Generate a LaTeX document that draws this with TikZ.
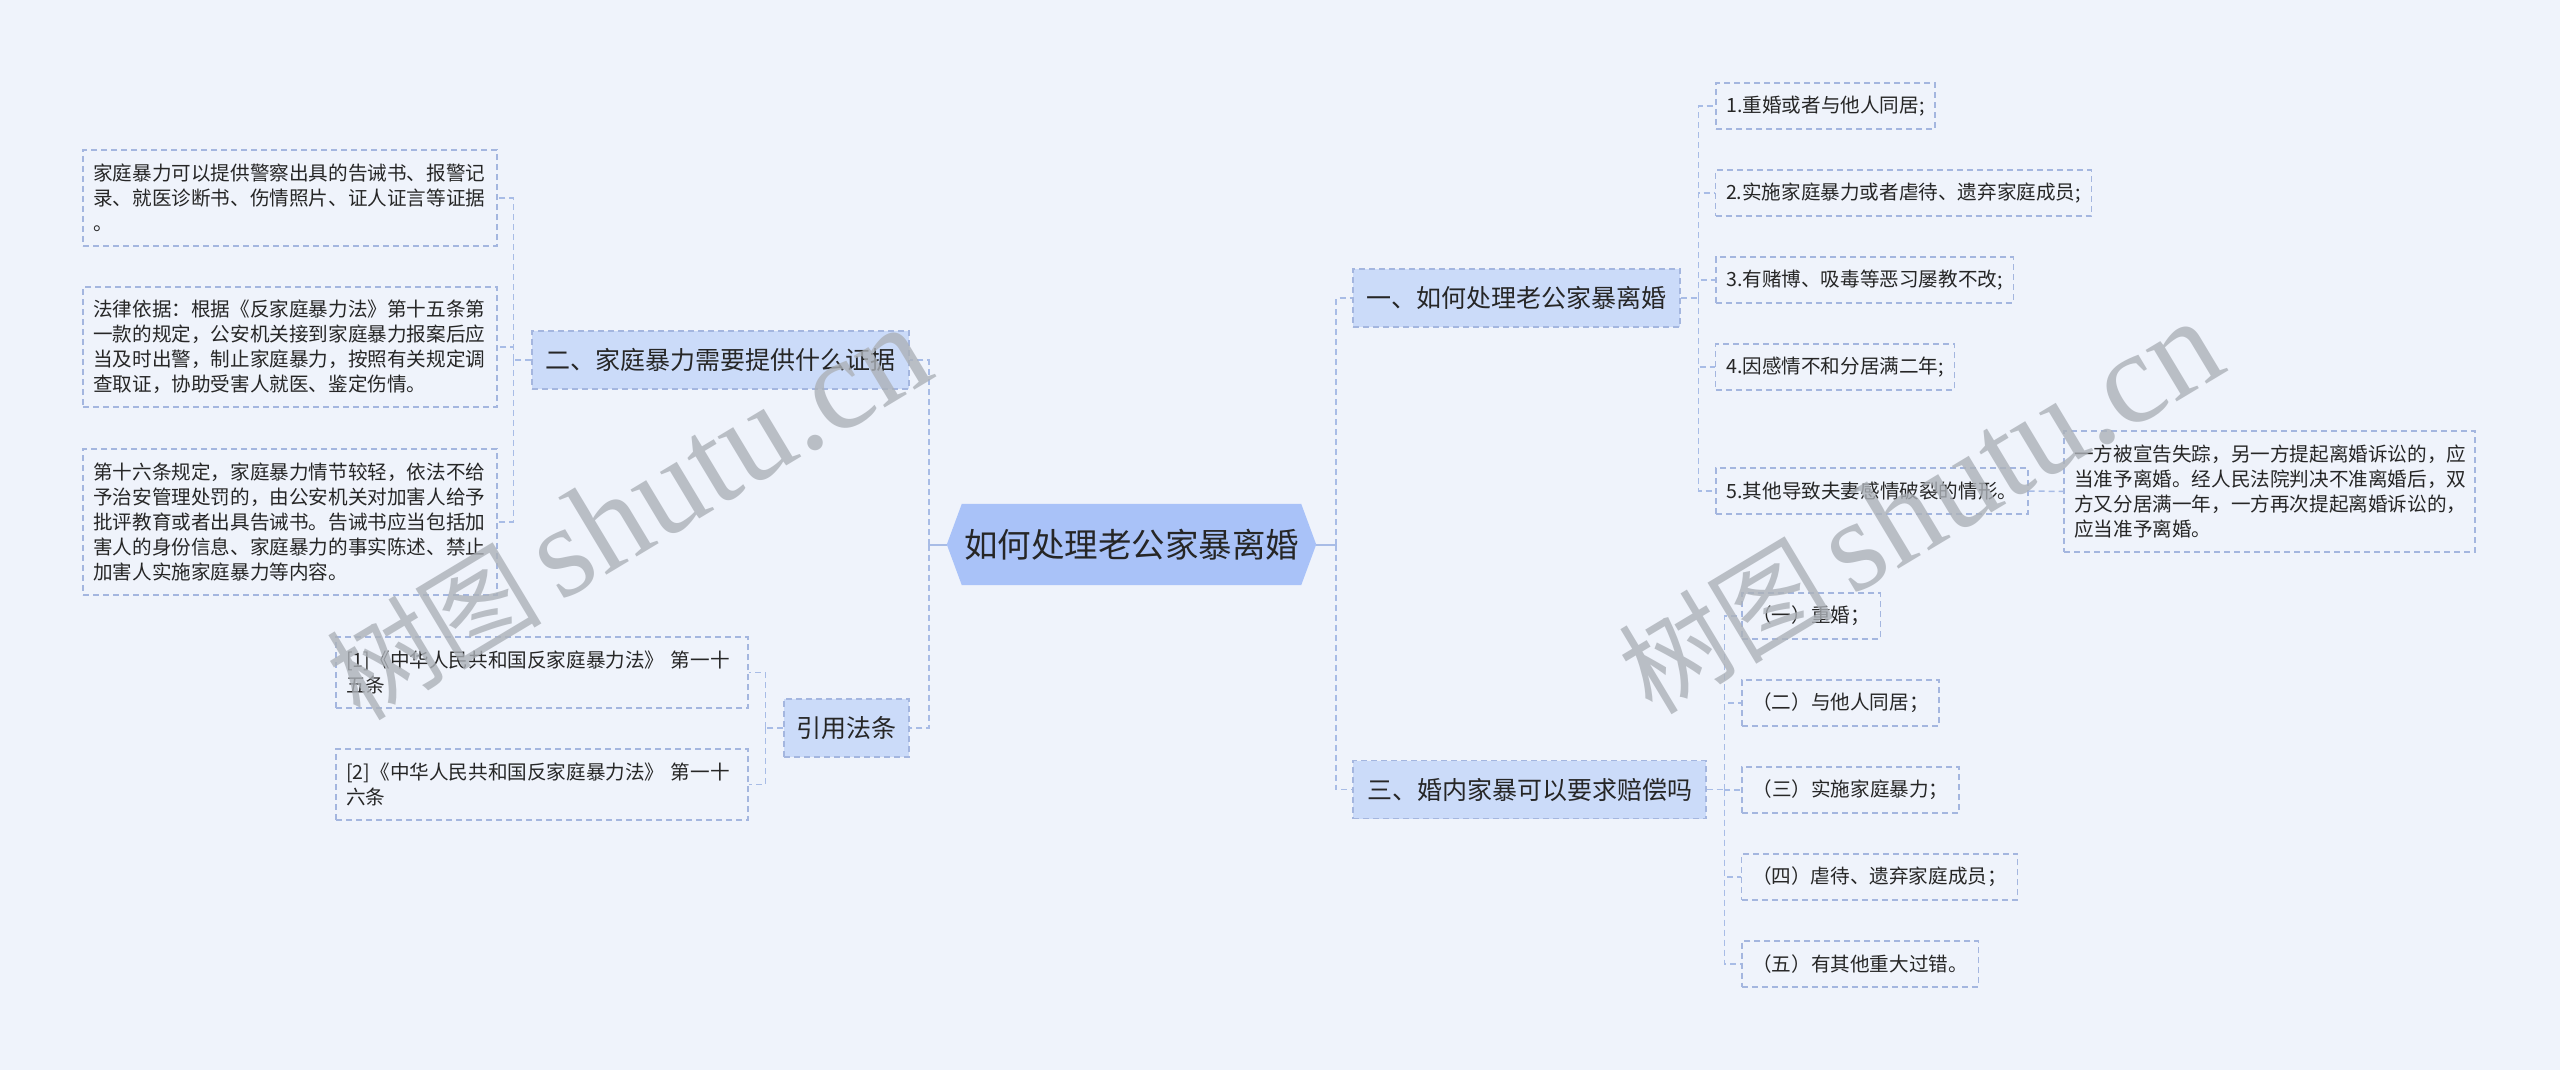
\documentclass[tikz,border=0pt]{standalone}
\usepackage{fontspec}
\newfontfamily\cjk{Noto Sans CJK SC}
\newfontfamily\wmfont{Liberation Serif}
\usetikzlibrary{calc,backgrounds}
\definecolor{bgc}{RGB}{239,243,251}
\definecolor{brfill}{RGB}{203,219,249}
\definecolor{rootfill}{RGB}{169,194,248}
\definecolor{bordc}{RGB}{164,182,223}
\definecolor{connc}{RGB}{168,188,230}
\definecolor{txtc}{RGB}{38,38,38}
\definecolor{wmc}{RGB}{172,177,184}
\begin{document}
\begin{tikzpicture}[x=1pt,y=-1pt,
  box/.style={rectangle, draw=bordc, line width=1.2pt, dash pattern=on 6pt off 4pt,
    inner xsep=10.3pt, inner ysep=0pt, text=txtc, anchor=center,
    font=\cjk\fontsize{19.6pt}{25pt}\selectfont, minimum height=46pt},
  mline/.style={align=left, text width=#1},
  branch/.style={box, fill=brfill, inner xsep=0pt, minimum height=58pt,
    font=\cjk\fontsize{25pt}{30pt}\selectfont},
  rootst/.style={rectangle, inner sep=0pt, text=txtc, anchor=center,
    font=\cjk\fontsize{33.5pt}{38pt}\selectfont},
  conn/.style={draw=connc, line width=1.5pt, dash pattern=on 6pt off 4pt},
  solidc/.style={draw=connc, line width=2pt},
  wm/.style={text=wmc, opacity=0.8, inner sep=0pt, anchor=center}
]
\begin{scope}[on background layer]
\fill[bgc] (0,0) rectangle (2560,1070);
\end{scope}
\useasboundingbox (0,0) rectangle (2560,1070);

% root
\node[rootst, minimum width=339pt, minimum height=81pt] (root) at (1131.5,544.5) {如何处理老公家暴离婚};
\begin{scope}[on background layer]
\fill[rootfill] (root.north west) -- (root.north east) -- ($(root.east)+(15,0)$)
  -- (root.south east) -- (root.south west) -- ($(root.west)+(-15,0)$) -- cycle;
\end{scope}
\coordinate (rootL) at ($(root.west)+(-15,0)$);
\coordinate (rootR) at ($(root.east)+(15,0)$);

% branches
\node[branch, minimum width=377pt] (b2) at (720.5,360) {二、家庭暴力需要提供什么证据};
\node[branch, minimum width=125pt] (b4) at (846.5,728) {引用法条};
\node[branch, minimum width=327pt] (b1) at (1516.5,298) {一、如何处理老公家暴离婚};
\node[branch, minimum width=353pt] (b3) at (1529.5,789.5) {三、婚内家暴可以要求赔偿吗};

% left leaves of b2
\node[box, mline=393.4pt, minimum height=96pt] (L1) at (290,198) {家庭暴力可以提供警察出具的告诫书、报警记\\录、就医诊断书、伤情照片、证人证言等证据\\。};
\node[box, mline=393.4pt, minimum height=120pt] (L2) at (290,347) {法律依据：根据《反家庭暴力法》第十五条第\\一款的规定，公安机关接到家庭暴力报案后应\\当及时出警，制止家庭暴力，按照有关规定调\\查取证，协助受害人就医、鉴定伤情。};
\node[box, mline=393.4pt, minimum height=146pt] (L3) at (290,522) {第十六条规定，家庭暴力情节较轻，依法不给\\予治安管理处罚的，由公安机关对加害人给予\\批评教育或者出具告诫书。告诫书应当包括加\\害人的身份信息、家庭暴力的事实陈述、禁止\\加害人实施家庭暴力等内容。};

% left leaves of b4
\node[box, mline=391.4pt, minimum height=71pt] (R1) at (542,672.5) {[1]《中华人民共和国反家庭暴力法》 第一十\\五条};
\node[box, mline=391.4pt, minimum height=71pt] (R2) at (542,784.5) {[2]《中华人民共和国反家庭暴力法》 第一十\\六条};

% right leaves of b1
\node[box, minimum width=219pt] (A1) at (1825.5,106) {1.重婚或者与他人同居;};
\node[box, minimum width=375pt] (A2) at (1903.5,193) {2.实施家庭暴力或者虐待、遗弃家庭成员;};
\node[box, minimum width=297pt] (A3) at (1864.5,280) {3.有赌博、吸毒等恶习屡教不改;};
\node[box, minimum width=238pt] (A4) at (1835,367) {4.因感情不和分居满二年;};
\node[box, minimum width=312pt] (A5) at (1872,491) {5.其他导致夫妻感情破裂的情形。};
\node[box, mline=390.4pt, minimum height=121pt] (A5c) at (2269.5,491.5) {一方被宣告失踪，另一方提起离婚诉讼的，应\\当准予离婚。经人民法院判决不准离婚后，双\\方又分居满一年，一方再次提起离婚诉讼的，\\应当准予离婚。};

% right leaves of b3
\node[box, minimum width=138pt] (C1) at (1811,616) {（一）重婚；};
\node[box, minimum width=197pt] (C2) at (1840.5,703) {（二）与他人同居；};
\node[box, minimum width=217pt] (C3) at (1850.5,790) {（三）实施家庭暴力；};
\node[box, minimum width=275pt] (C4) at (1879.5,877) {（四）虐待、遗弃家庭成员；};
\node[box, minimum width=236pt] (C5) at (1860,964) {（五）有其他重大过错。};

% connectors from root
\draw[solidc] (rootL) -- ++(-18,0) coordinate (lj);
\draw[conn] (lj) |- (b2.east);
\draw[conn] (lj) |- (b4.east);
\draw[solidc] (rootR) -- ++(20,0) coordinate (rj);
\draw[conn] (rj) |- (b1.west);
\draw[conn] (rj) |- (b3.west);

% b2 children
\draw[conn] (b2.west) -- ++(-18,0) coordinate (j2);
\foreach \c in {L1,L2,L3} \draw[conn] (j2) |- (\c.east);
% b4 children
\draw[conn] (b4.west) -- ++(-18,0) coordinate (j4);
\foreach \c in {R1,R2} \draw[conn] (j4) |- (\c.east);
% b1 children
\draw[conn] (b1.east) -- ++(18,0) coordinate (j1);
\foreach \c in {A1,A2,A3,A4,A5} \draw[conn] (j1) |- (\c.west);
\draw[conn] (A5.east) -- (A5c.west);
% b3 children
\draw[conn] (b3.east) -- ++(18,0) coordinate (j3);
\foreach \c in {C1,C2,C3,C4,C5} \draw[conn] (j3) |- (\c.west);

% watermarks
\node[wm, rotate=31] (wm1) at (628,514) {{\cjk\fontsize{108pt}{110pt}\selectfont 树图}\hspace{18pt}{\wmfont\fontsize{131pt}{131pt}\selectfont shutu.cn}};
\node[wm, rotate=31] (wm2) at (1920,508) {{\cjk\fontsize{108pt}{110pt}\selectfont 树图}\hspace{18pt}{\wmfont\fontsize{131pt}{131pt}\selectfont shutu.cn}};
\end{tikzpicture}
\end{document}
